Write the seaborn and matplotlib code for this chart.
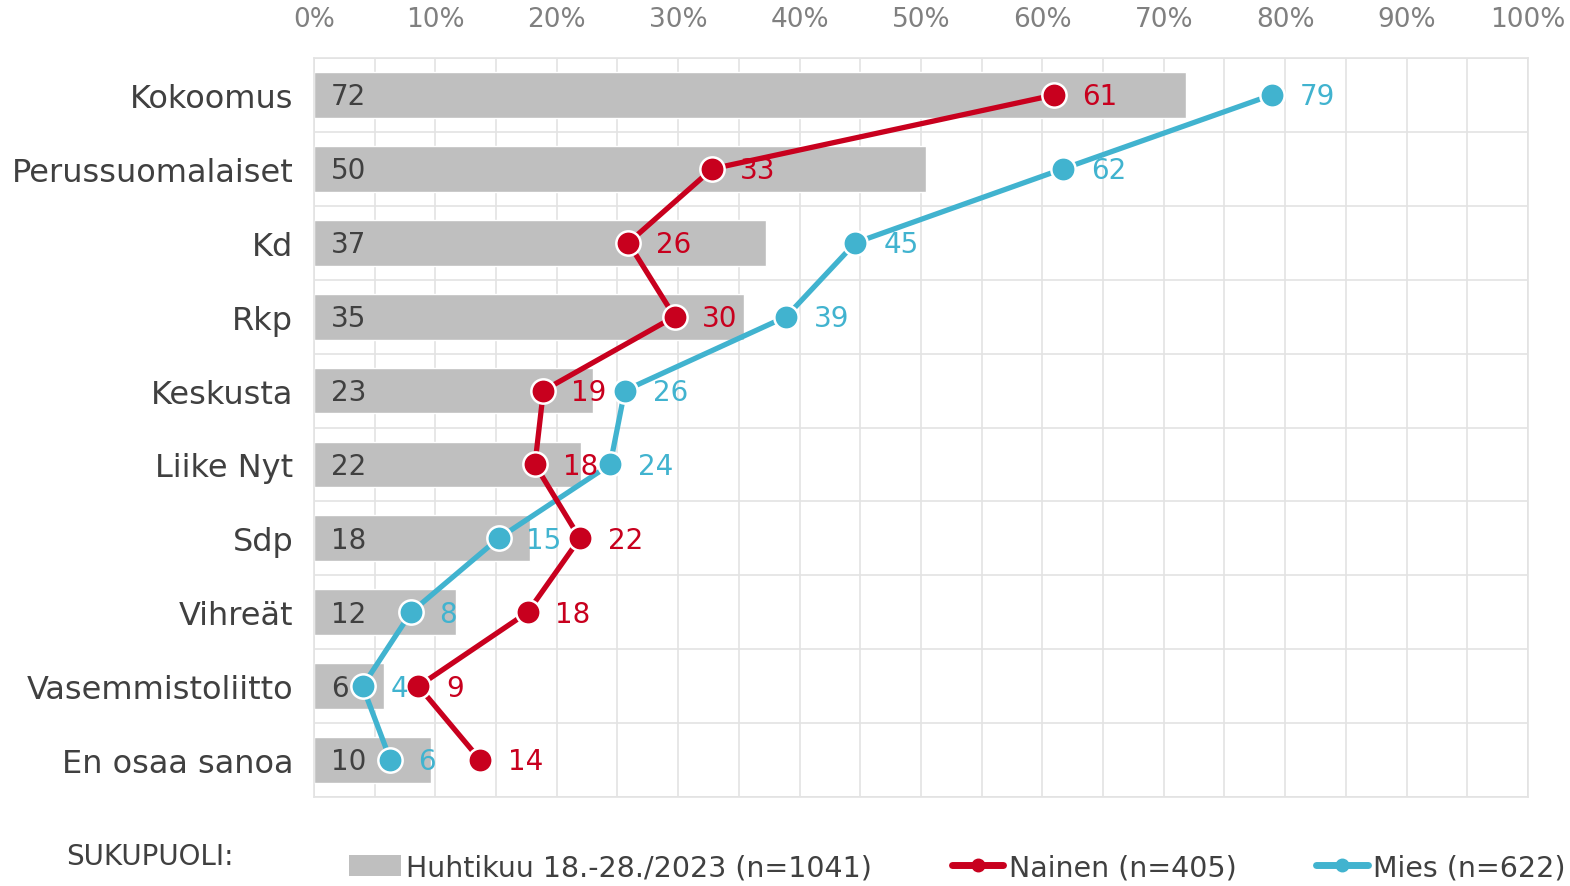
import numpy as np
import pandas as pd
import matplotlib
matplotlib.use('Agg')
import matplotlib.pyplot as plt
import seaborn as sns
from matplotlib.lines import Line2D
from matplotlib.patches import Patch

# data (percent)
parties = ['Kokoomus', 'Perussuomalaiset', 'Kd', 'Rkp', 'Keskusta',
           'Liike Nyt', 'Sdp', 'Vihreät', 'Vasemmistoliitto', 'En osaa sanoa']
total = [71.8, 50.4, 37.2, 35.4, 23.0, 22.0, 17.8, 11.7, 5.8, 9.6]
nainen = [61.0, 32.8, 25.9, 29.7, 18.9, 18.2, 21.9, 17.6, 8.6, 13.7]
mies = [78.9, 61.7, 44.6, 38.9, 25.6, 24.4, 15.2, 8.0, 4.0, 6.3]
xticks = [0, 10, 20, 30, 40, 50, 60, 70, 80, 90, 100]

lbl_total = 'Huhtikuu 18.-28./2023 (n=1041)'
lbl_nainen = 'Nainen (n=405)'
lbl_mies = 'Mies (n=622)'

GREY = '#BFBFBF'
RED = '#C8001E'
CYAN = '#41B3CF'
TXT = '#404040'

sns.set_theme(style='white')
plt.rcParams['font.family'] = ['DejaVu Sans']

df = pd.DataFrame({'party': parties, 'total': total,
                   'nainen': nainen, 'mies': mies, 'pos': np.arange(len(parties))})

fig = plt.figure(figsize=(15.7, 8.87), dpi=100)
ax = fig.add_axes([0.2, 0.1003, 0.7732, 0.8332])

sns.barplot(data=df, x='total', y='party', color=GREY, width=0.62,
            saturation=1, ax=ax, zorder=2)

sns.lineplot(data=df, x='nainen', y='pos', sort=False, orient='y', color=RED,
             linewidth=3.8, marker='o', markersize=17.5, markeredgecolor='white',
             markeredgewidth=1.8, ax=ax, zorder=4)
sns.lineplot(data=df, x='mies', y='pos', sort=False, orient='y', color=CYAN,
             linewidth=3.8, marker='o', markersize=17.5, markeredgecolor='white',
             markeredgewidth=1.8, ax=ax, zorder=3)

# value labels
for i, row in df.iterrows():
    ax.annotate(f"{round(row['total'])}", (0, i), xytext=(12, -1),
                textcoords='offset points', ha='left', va='center',
                fontsize=20, color=TXT, zorder=5)
    ax.annotate(f"{round(row['nainen'])}", (row['nainen'], i), xytext=(20, -1),
                textcoords='offset points', ha='left', va='center',
                fontsize=20, color=RED, zorder=5)
    ax.annotate(f"{round(row['mies'])}", (row['mies'], i), xytext=(20, -1),
                textcoords='offset points', ha='left', va='center',
                fontsize=20, color=CYAN, zorder=5)

ax.set_xlim(0, 100)
ax.set_ylim(len(parties) - 0.5, -0.5)
ax.set_xticks(xticks)
ax.set_xticklabels([f'{t}%' for t in xticks])
ax.set_xticks(np.arange(5, 100, 10), minor=True)
ax.set_yticks(np.arange(len(parties)))
ax.set_yticklabels(parties)
ax.set_yticks(np.arange(-0.5, len(parties), 1), minor=True)
ax.xaxis.tick_top()
ax.set_xlabel('')
ax.set_ylabel('')
ax.tick_params(axis='x', which='both', length=0, pad=19, labelsize=19, labelcolor='#808080')
ax.tick_params(axis='y', which='both', length=0, pad=15, labelsize=23, labelcolor=TXT)
ax.grid(axis='x', which='both', color='#E3E3E3', linewidth=1.2, zorder=0)
ax.grid(axis='y', which='minor', color='#E3E3E3', linewidth=1.2, zorder=0)
ax.grid(axis='y', which='major', visible=False)
ax.set_axisbelow(True)
for s in ax.spines.values():
    s.set_color('#E3E3E3')
    s.set_linewidth(1.2)

handles = [
    Patch(facecolor=GREY, edgecolor='none', label=lbl_total),
    Line2D([0], [0], color=RED, linewidth=5, marker='o', markersize=9,
           solid_capstyle='round', label=lbl_nainen),
    Line2D([0], [0], color=CYAN, linewidth=5, marker='o', markersize=9,
           solid_capstyle='round', label=lbl_mies),
]
leg = fig.legend(handles=handles, loc='center', bbox_to_anchor=(0.61, 0.021),
                 ncol=3, frameon=False, fontsize=20.5, handlelength=1.8,
                 handleheight=0.75, handletextpad=0.2, columnspacing=2.8)
for t in leg.get_texts():
    t.set_color(TXT)

fig.text(66 / 1570, 1 - 857 / 887, 'SUKUPUOLI:', fontsize=20, color=TXT,
         ha='left', va='center')

fig.savefig('out.png', dpi=100)
